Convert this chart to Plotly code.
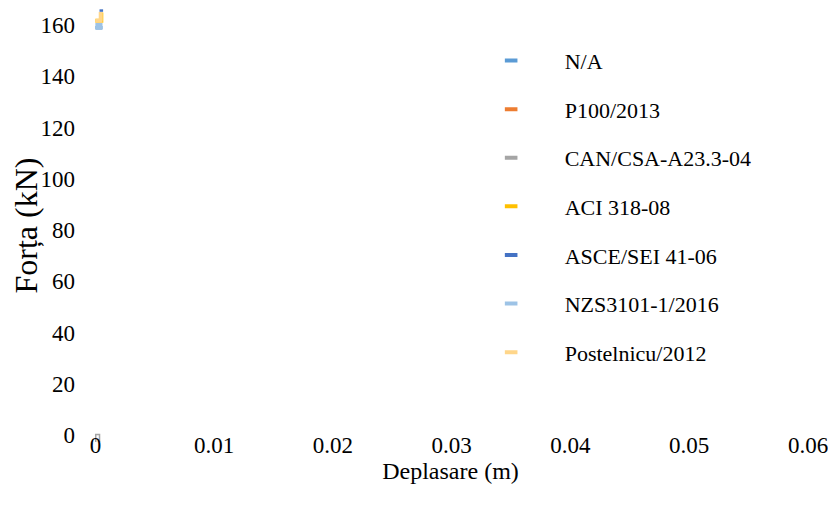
import plotly.graph_objects as go

# Series data (displacement in m, force in kN)
series_names = ["N/A", "P100/2013", "CAN/CSA-A23.3-04", "ACI 318-08",
                "ASCE/SEI 41-06", "NZS3101-1/2016", "Postelnicu/2012"]
series_colors = ["#5B9BD5", "#ED7D31", "#A5A5A5", "#FFC000",
                 "#4472C4", "#9DC3E6", "#FFD68A"]

disp_na = [0.0000, 0.0006]
force_na = [159.0, 159.0]

disp_p100 = [0.0005, 0.0005]
force_p100 = [163.0, 164.5]

disp_can = [0.00003, 0.00003, 0.00035, 0.00035]
force_can = [-2.6, 0.3, 0.3, -2.6]

disp_aci = [0.0000, 0.0005, 0.0005]
force_aci = [161.6, 161.6, 164.8]

disp_asce = [0.00035, 0.00065]
force_asce = [165.6, 165.6]

disp_nzs = [0.0000, 0.0006]
force_nzs = [159.4, 159.4]

disp_post = [0.0000, 0.0006, 0.0006, 0.00045, 0.00045]
force_post = [161.6, 161.6, 161.6, 161.6, 165.0]

data_x = [disp_na, disp_p100, disp_can, disp_aci, disp_asce, disp_nzs, disp_post]
data_y = [force_na, force_p100, force_can, force_aci, force_asce, force_nzs, force_post]
widths = [3, 3, 1.5, 4, 2.5, 7, 4]

x_ticks = [0, 0.01, 0.02, 0.03, 0.04, 0.05, 0.06]
x_tick_labels = ["0", "0.01", "0.02", "0.03", "0.04", "0.05", "0.06"]
y_ticks = [0, 20, 40, 60, 80, 100, 120, 140, 160]

FONT = "Liberation Serif"

fig = go.Figure()
for name, color, xs, ys, w in zip(series_names, series_colors, data_x, data_y, widths):
    fig.add_trace(go.Scatter(x=xs, y=ys, mode="lines", name=name,
                             line=dict(color=color, width=w),
                             showlegend=False, hoverinfo="skip"))
for i, (name, color) in enumerate(zip(series_names, series_colors)):
    fig.add_trace(go.Scatter(x=[None], y=[None], mode="markers", name=name,
                             legendgroup=f"g{i}",
                             marker=dict(symbol="line-ew", size=9, color=color,
                                         line=dict(color=color, width=4))))

fig.update_layout(
    width=828, height=505,
    margin=dict(l=85, r=28, t=0, b=70, autoexpand=False),
    paper_bgcolor="white", plot_bgcolor="white",
    legend=dict(x=0.51, y=0.927, xanchor="left", yanchor="top",
                tracegroupgap=17, font=dict(family=FONT, size=22, color="#000000"),
                itemwidth=97, bgcolor="rgba(0,0,0,0)"),
    xaxis=dict(range=[-0.0002, 0.06], tickvals=x_ticks, ticktext=x_tick_labels,
               showgrid=False, zeroline=False, showline=False, ticks="",
               ticklabelstandoff=-14, automargin=False,
               tickfont=dict(family=FONT, size=23, color="#000000"),
               title=dict(text="Deplasare (m)", standoff=0,
                          font=dict(family=FONT, size=24, color="#000000"))),
    yaxis=dict(range=[-3, 166.6], tickvals=y_ticks,
               showgrid=False, zeroline=False, showline=False, ticks="",
               ticklabelstandoff=17, automargin=False,
               tickfont=dict(family=FONT, size=23, color="#000000"),
               title=dict(text="Forța (kN)", standoff=9,
                          font=dict(family=FONT, size=32, color="#000000"))),
)

fig.write_html("out.html")
